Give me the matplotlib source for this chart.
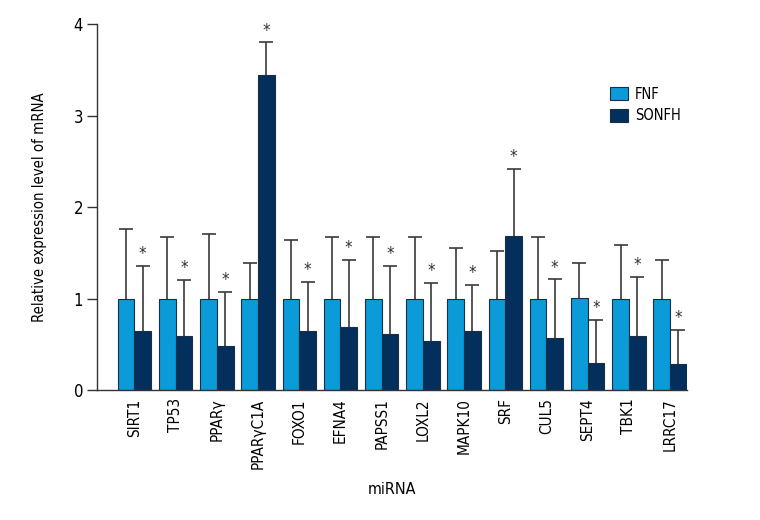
import matplotlib.pyplot as plt
import numpy as np

plt.rcParams['font.family'] = ['DejaVu Sans']
plt.rcParams['font.stretch'] = 'condensed'

# data
genes = ['SIRT1', 'TP53', 'PPARγ', 'PPARγC1A', 'FOXO1', 'EFNA4', 'PAPSS1',
         'LOXL2', 'MAPK10', 'SRF', 'CUL5', 'SEPT4', 'TBK1', 'LRRC17']
fnf_mean = [1.0, 1.0, 1.0, 1.0, 1.0, 1.0, 1.0, 1.0, 1.0, 1.0, 1.0, 1.01, 1.0, 1.0]
fnf_sd = [0.76, 0.67, 0.71, 0.39, 0.64, 0.67, 0.67, 0.67, 0.55, 0.52, 0.67, 0.38, 0.58, 0.42]
sonfh_mean = [0.65, 0.59, 0.48, 3.44, 0.65, 0.69, 0.61, 0.54, 0.65, 1.68, 0.57, 0.29, 0.59, 0.28]
sonfh_sd = [0.71, 0.61, 0.59, 0.36, 0.53, 0.73, 0.75, 0.63, 0.50, 0.74, 0.64, 0.48, 0.65, 0.38]

fnf_color = '#0b9bd9'
sonfh_color = '#032f5c'
edge = '#1c2e40'
err_color = '#3a3a3a'

fig = plt.figure(figsize=(7.6, 5.2), dpi=100)
ax = fig.add_axes([0.1276, 0.25, 0.776, 0.7038])

x = np.arange(len(genes))
w = 0.405
zeros = np.zeros(len(genes))
ekw = dict(ecolor=err_color, elinewidth=1.2, capsize=4.7, capthick=1.2, zorder=1)

b1 = ax.bar(x - w / 2, fnf_mean, w, color=fnf_color, edgecolor=edge, linewidth=0.8,
            yerr=[zeros, fnf_sd], error_kw=ekw, label='FNF', zorder=2)
b2 = ax.bar(x + w / 2, sonfh_mean, w, color=sonfh_color, edgecolor=edge, linewidth=0.8,
            yerr=[zeros, sonfh_sd], error_kw=ekw, label='SONFH', zorder=2)

# only upper error bars: hide the lower caps sitting on the bar tops
for b in (b1, b2):
    caps = b.errorbar.lines[1]
    caps[0].set_visible(False)

# significance stars above SONFH error bars
for i in range(len(genes)):
    top = sonfh_mean[i] + sonfh_sd[i]
    ax.annotate('*', (x[i] + w / 2, top), xytext=(0, 2), textcoords='offset points',
                ha='center', va='bottom', fontsize=12, color='#333333')

ax.set_xlim(-0.91, len(genes) - 1 + w)
ax.set_ylim(0, 4)
ax.set_yticks([0, 1, 2, 3, 4])
ax.set_xticks(x)
ax.set_xticklabels(genes, rotation=90, fontsize=11)
ax.tick_params(axis='x', length=0, pad=6)
ax.tick_params(axis='y', length=7, width=1, labelsize=12, color='#333333', pad=3)

for s in ['top', 'right']:
    ax.spines[s].set_visible(False)
for s in ['left', 'bottom']:
    ax.spines[s].set_color('#333333')
    ax.spines[s].set_linewidth(1)

ax.set_ylabel('Relative expression level of mRNA', fontsize=10.7, labelpad=19)
ax.set_xlabel('miRNA', fontsize=11.5, labelpad=10)

ax.legend(loc='upper left', bbox_to_anchor=(0.86, 0.845), frameon=False,
          fontsize=10.5, handlelength=1.2, handleheight=1.0, handletextpad=0.5,
          labelspacing=0.45, borderaxespad=0)

fig.savefig('out.png', dpi=100)
